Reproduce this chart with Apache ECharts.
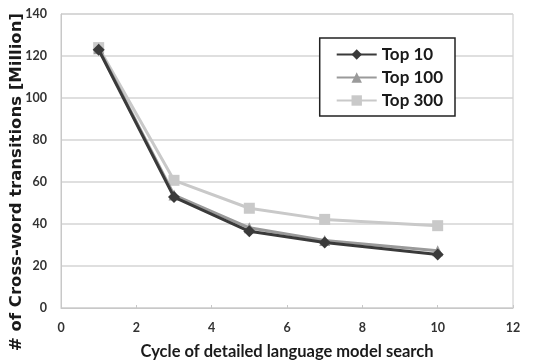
<!DOCTYPE html>
<html>
<head>
<meta charset="utf-8">
<script src="https://cdn.jsdelivr.net/npm/echarts@6/dist/echarts.min.js"></script>
<style>
  html, body { margin: 0; padding: 0; background: #fff; }
  #chart { width: 540px; height: 361px; }
</style>
</head>
<body>
<div id="chart"></div>
<script>
// Search cycles on the x axis
const cycles = [1, 3, 5, 7, 10];
// Cross-word transitions (millions) per candidate list size
const top10 = [123, 52.8, 36.5, 31.2, 25.5];
const top100 = [123.5, 53.8, 38.2, 32.2, 27.3];
const top300 = [124, 60.8, 47.5, 42.2, 39.2];

const seriesNames = ['Top 10', 'Top 100', 'Top 300'];
const seriesData = [top10, top100, top300];
const seriesColors = ['#3a3a3a', '#9a9a9a', '#c9c9c9'];
const seriesSymbols = ['diamond', 'triangle', 'rect'];
const symbolSizes = [12, 11, 11];
const yTitle = '# of Cross-word transitions [Million]';

const font = 'Lato, "Liberation Sans", sans-serif';

const chart = echarts.init(document.getElementById('chart'), null, { renderer: 'canvas' });

chart.setOption({
  animation: false,
  backgroundColor: '#fff',
  grid: {
    left: 61, right: 27, top: 14, bottom: 53,
    outerBoundsMode: 'none', containLabel: false,
    show: true, borderColor: '#c8c8c8', borderWidth: 1
  },
  // vertical axis title, set slightly below the plot centre
  graphic: [{
    type: 'text',
    x: 17, y: 182,
    rotation: Math.PI / 2,
    style: {
      text: yTitle,
      font: 'bold 16.5px "DejaVu Sans", sans-serif',
      fill: '#1a1a1a',
      textAlign: 'center',
      textVerticalAlign: 'middle'
    }
  }],
  legend: {
    right: 85, top: 38, orient: 'vertical', itemGap: 6,
    itemWidth: 40, itemHeight: 13,
    padding: [8, 12, 7, 16],
    borderColor: '#222', borderWidth: 1.5, backgroundColor: '#fff',
    textStyle: { fontFamily: font, fontWeight: 'bold', fontSize: 17, color: '#1a1a1a' },
    data: seriesNames
  },
  xAxis: {
    type: 'value', min: 0, max: 12, interval: 2,
    name: 'Cycle of detailed language model search',
    nameLocation: 'middle', nameGap: 35,
    nameTextStyle: { fontFamily: font, fontWeight: 'bold', fontSize: 16.5, color: '#1a1a1a' },
    axisLine: { show: true, lineStyle: { color: '#c8c8c8' } },
    axisTick: { show: true, length: 3, inside: true, lineStyle: { color: '#c8c8c8' } },
    axisLabel: { fontFamily: font, fontWeight: 'bold', fontSize: 12.5, color: '#333', margin: 13 },
    splitLine: { show: false }
  },
  yAxis: {
    type: 'value', min: 0, max: 140, interval: 20,
    axisLine: { show: true, lineStyle: { color: '#c8c8c8' } },
    axisTick: { show: false },
    axisLabel: { fontFamily: font, fontWeight: 'bold', fontSize: 12.5, color: '#333', margin: 14 },
    splitLine: { show: true, lineStyle: { color: '#d4d4d4', width: 1.5 } }
  },
  series: seriesNames.map((name, i) => ({
    name: name,
    type: 'line',
    data: cycles.map((c, j) => [c, seriesData[i][j]]),
    symbol: seriesSymbols[i],
    symbolSize: symbolSizes[i],
    showAllSymbol: true,
    z: 3 - i,
    lineStyle: { color: seriesColors[i], width: 3 },
    itemStyle: { color: seriesColors[i] }
  }))
});
</script>
</body>
</html>
